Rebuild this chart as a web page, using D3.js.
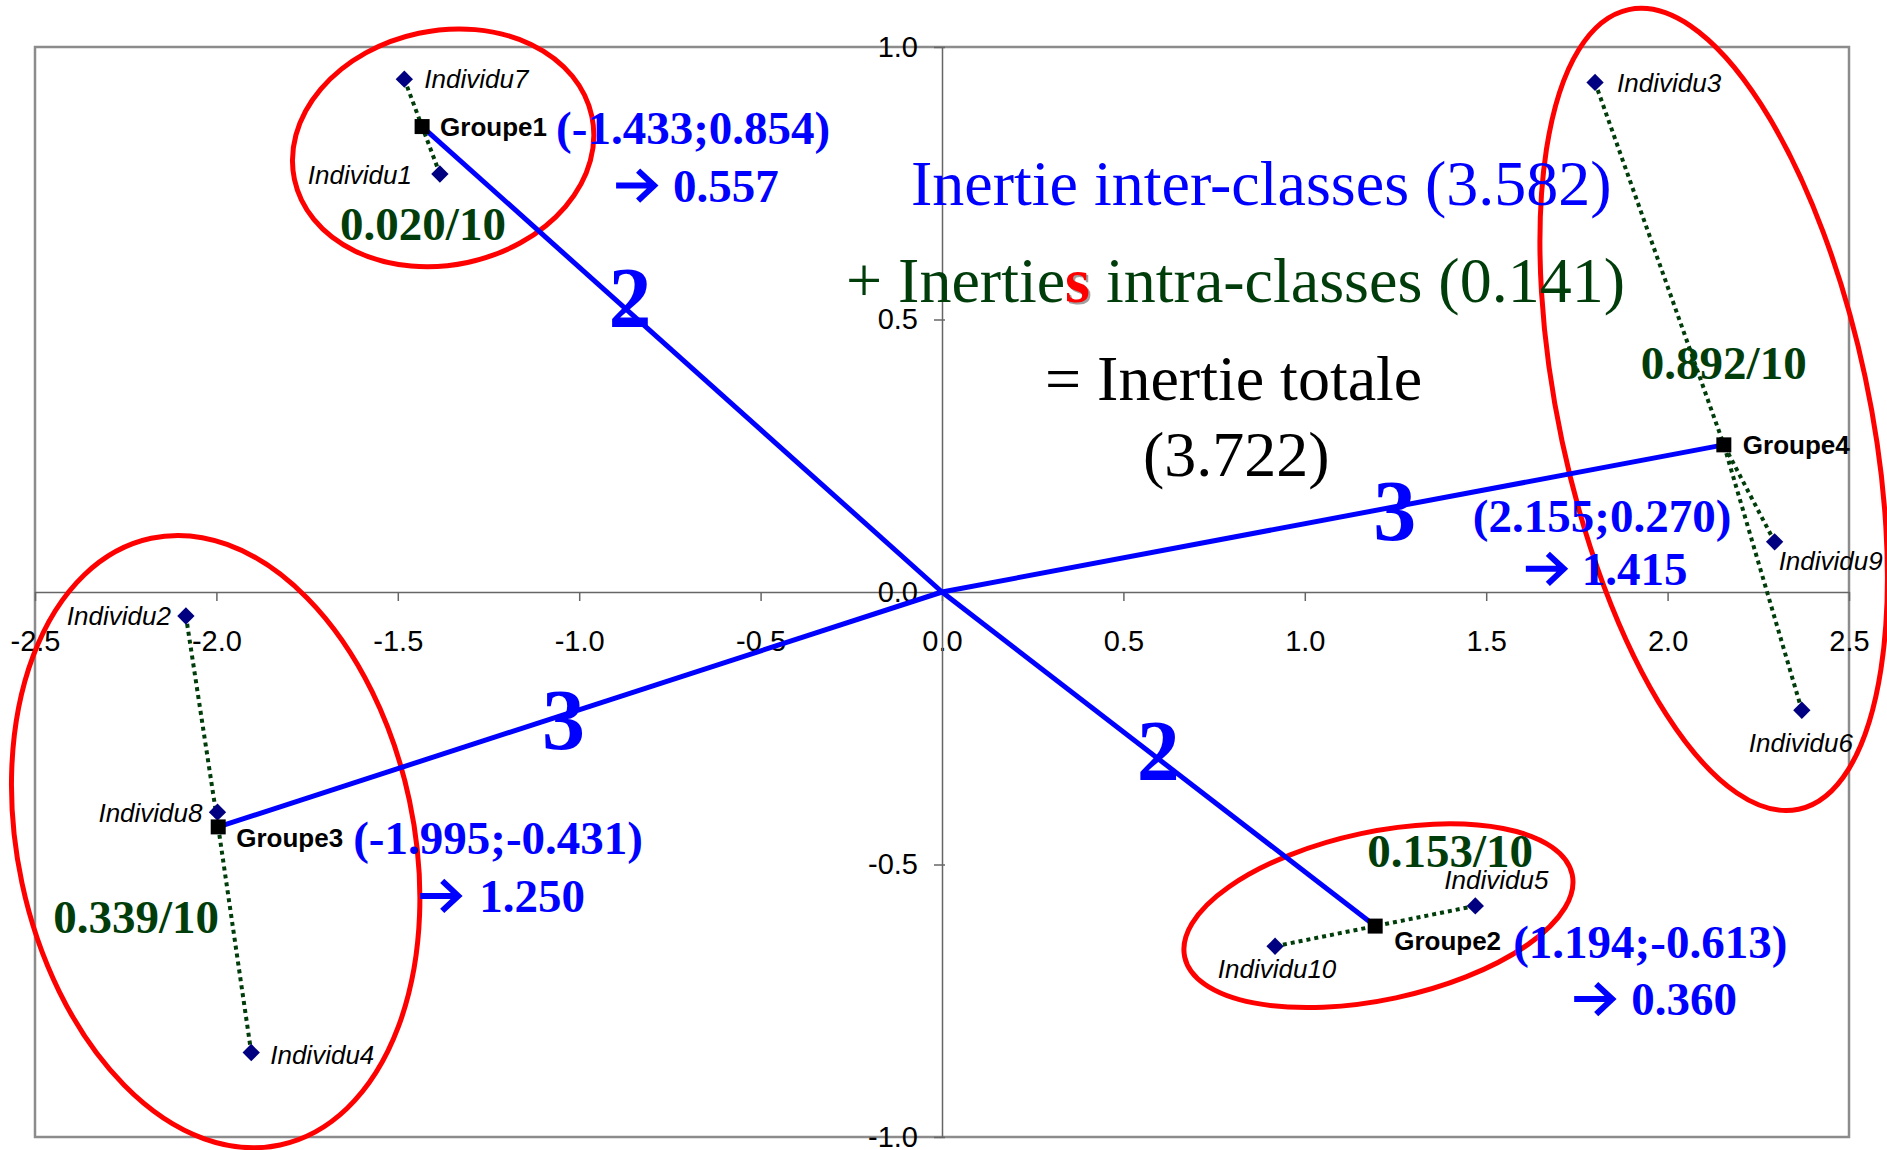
<!DOCTYPE html>
<html><head><meta charset="utf-8">
<script src="https://cdn.jsdelivr.net/npm/d3@7"></script>
<style>body{margin:0;background:#fff;} svg{display:block;}</style>
</head><body>
<svg id="chart" width="1887" height="1150"></svg>
<script>
// ---------- data ----------
const xTickValues = [-2.5, -2.0, -1.5, -1.0, -0.5, 0.0, 0.5, 1.0, 1.5, 2.0, 2.5];
const yTickValues = [-1.0, -0.5, 0.0, 0.5, 1.0];

const indNames = ["Individu1","Individu2","Individu3","Individu4","Individu5","Individu6","Individu7","Individu8","Individu9","Individu10"];
const indX     = [-1.384, -2.084, 1.800, -1.904, 1.470, 2.370, -1.482, -1.997, 2.295, 0.918];
const indY     = [ 0.767, -0.044, 0.935, -0.845, -0.576, -0.217, 0.941, -0.404, 0.092, -0.650];
const indGroup = [0, 2, 3, 2, 1, 3, 0, 2, 3, 1];

const groupNames  = ["Groupe1","Groupe2","Groupe3","Groupe4"];
const groupX      = [-1.433, 1.194, -1.995, 2.155];
const groupY      = [ 0.854, -0.613, -0.431, 0.270];
const groupCount  = [2, 2, 3, 3];
const interContrib = ["0.557","0.360","1.250","1.415"];
const intraText    = ["0.020/10","0.153/10","0.339/10","0.892/10"];

const interTotal = "3.582", intraTotal = "0.141", grandTotal = "3.722";

// ellipses (data units)
const ellCX = [-1.375, 1.203, -2.002, 2.127];
const ellCY = [ 0.815, -0.594, -0.458, 0.335];
const ellRX = [ 0.419, 0.546, 0.546, 0.427];
const ellRY = [ 0.215, 0.154, 0.569, 0.750];

// ---------- layout (pixel offsets / styles) ----------
const BLUE = "#0000ff", GREEN = "#003d0a", RED = "#ff0000", NAVY = "#000080";
const SERIF = "'Liberation Serif','Times New Roman',serif";
const SANS = "'Liberation Sans',Arial,sans-serif";
const indLabelPos = [
  {dx:-28, dy:10, a:"end"}, {dx:-15, dy:9, a:"end"}, {dx:22, dy:10, a:"start"},
  {dx:19, dy:11, a:"start"}, {dx:-31, dy:-17, a:"start"}, {dx:-1, dy:42, a:"middle"},
  {dx:20, dy:9, a:"start"}, {dx:-15, dy:9.5, a:"end"}, {dx:4, dy:28, a:"start"},
  {dx:2, dy:32, a:"middle"}
];
const groupLabelPos = [{dx:18,dy:9},{dx:19,dy:24},{dx:18,dy:20},{dx:19,dy:9}];
const coordPos = [{dx:134,dy:17},{dx:138,dy:31.5},{dx:135,dy:27},{dx:-251,dy:87}];
const arrowPos = [{dx:194,dy:59},{dx:199,dy:73},{dx:202,dy:69},{dx:-198,dy:124}];
const valuePos = [{dx:251,dy:75},{dx:256,dy:89},{dx:261,dy:85},{dx:-142,dy:140}];
const intraPos = [{dx:-82,dy:113},{dx:-8,dy:-59},{dx:-165,dy:106},{dx:-83,dy:-66}];
const weightPos = [{t:0.6,dy:14},{t:0.499,dy:21},{t:0.523,dy:34},{t:0.579,dy:33}];

// ---------- scales ----------
const plot = {left:35, right:1849, top:47, bottom:1137};
const x = d3.scaleLinear().domain([-2.5, 2.5]).range([plot.left, plot.right]);
const y = d3.scaleLinear().domain([-1, 1]).range([plot.bottom, plot.top]);
const xu = x(1) - x(0), yu = y(0) - y(1);

const svg = d3.select("#chart");
svg.append("rect").attr("width",1887).attr("height",1150).attr("fill","#fff");

// plot border
svg.append("rect").attr("x",plot.left).attr("y",plot.top)
  .attr("width",plot.right-plot.left).attr("height",plot.bottom-plot.top)
  .attr("fill","none").attr("stroke","#8c8c8c").attr("stroke-width",2.5);

// axes
const xAxis = d3.axisBottom(x).tickValues(xTickValues).tickSize(9).tickSizeOuter(0)
  .tickPadding(29).tickFormat(d => d.toFixed(1));
const gx = svg.append("g").attr("transform",`translate(0,${y(0)})`).call(xAxis);
const yAxis = d3.axisLeft(y).tickValues(yTickValues).tickSize(8).tickSizeOuter(0)
  .tickPadding(16).tickFormat(d => d.toFixed(1));
const gy = svg.append("g").attr("transform",`translate(${x(0)},0)`).call(yAxis);
[gx, gy].forEach(g => {
  g.select(".domain").attr("stroke","#666").attr("stroke-width",1.5);
  g.selectAll(".tick line").attr("stroke","#666").attr("stroke-width",1.5);
  g.selectAll(".tick text").attr("font-family",SANS).attr("font-size",29).attr("fill","#000");
});
gy.selectAll(".tick line").attr("x2",3).attr("x1",-8);

// ellipses
svg.append("g").selectAll("ellipse").data(ellCX).join("ellipse")
  .attr("transform",(d,i)=>`translate(${x(ellCX[i])},${y(ellCY[i])}) rotate(-12)`)
  .attr("rx",(d,i)=>ellRX[i]*xu).attr("ry",(d,i)=>ellRY[i]*yu)
  .attr("fill","none").attr("stroke",RED).attr("stroke-width",5);

// blue inter-class lines
svg.append("g").selectAll("line").data(groupNames).join("line")
  .attr("x1",x(0)).attr("y1",y(0))
  .attr("x2",(d,i)=>x(groupX[i])).attr("y2",(d,i)=>y(groupY[i]))
  .attr("stroke",BLUE).attr("stroke-width",5);

// dotted intra-class lines
svg.append("g").selectAll("line").data(indNames).join("line")
  .attr("x1",(d,i)=>x(indX[i])).attr("y1",(d,i)=>y(indY[i]))
  .attr("x2",(d,i)=>x(groupX[indGroup[i]])).attr("y2",(d,i)=>y(groupY[indGroup[i]]))
  .attr("stroke",GREEN).attr("stroke-width",4).attr("stroke-dasharray","4,4");

// individual markers
svg.append("g").selectAll("path").data(indNames).join("path")
  .attr("d", d3.symbol(d3.symbolSquare, 150)())
  .attr("transform",(d,i)=>`translate(${x(indX[i])},${y(indY[i])}) rotate(45)`)
  .attr("fill",NAVY);
// group markers
svg.append("g").selectAll("path").data(groupNames).join("path")
  .attr("d", d3.symbol(d3.symbolSquare, 225)())
  .attr("transform",(d,i)=>`translate(${x(groupX[i])},${y(groupY[i])})`)
  .attr("fill","#000");

// individual labels
svg.append("g").selectAll("text").data(indNames).join("text")
  .attr("x",(d,i)=>x(indX[i])+indLabelPos[i].dx).attr("y",(d,i)=>y(indY[i])+indLabelPos[i].dy)
  .attr("text-anchor",(d,i)=>indLabelPos[i].a)
  .attr("font-family",SANS).attr("font-style","italic").attr("font-size",26).attr("fill","#000")
  .text(d=>d);
// group labels
svg.append("g").selectAll("text").data(groupNames).join("text")
  .attr("x",(d,i)=>x(groupX[i])+groupLabelPos[i].dx).attr("y",(d,i)=>y(groupY[i])+groupLabelPos[i].dy)
  .attr("font-family",SANS).attr("font-weight","bold").attr("font-size",26).attr("fill","#000")
  .text(d=>d);

// weight labels on lines
svg.append("g").selectAll("text").data(groupCount).join("text")
  .attr("x",(d,i)=>x(groupX[i]*weightPos[i].t))
  .attr("y",(d,i)=>y(groupY[i]*weightPos[i].t)+weightPos[i].dy)
  .attr("text-anchor","middle").attr("font-family",SERIF).attr("font-weight","bold")
  .attr("font-size",86).attr("fill",BLUE).text(d=>d);

const gxp = i => x(groupX[i]), gyp = i => y(groupY[i]);
// coordinates
svg.append("g").selectAll("text").data(groupNames).join("text")
  .attr("x",(d,i)=>gxp(i)+coordPos[i].dx).attr("y",(d,i)=>gyp(i)+coordPos[i].dy)
  .attr("font-family",SERIF).attr("font-weight","bold").attr("font-size",47).attr("fill",BLUE)
  .text((d,i)=>`(${groupX[i].toFixed(3)};${groupY[i].toFixed(3)})`);
// arrows (heavy chevron arrow glyph, drawn as a path)
svg.append("g").selectAll("path").data(groupNames).join("path")
  .attr("transform",(d,i)=>`translate(${gxp(i)+arrowPos[i].dx},${gyp(i)+arrowPos[i].dy})`)
  .attr("d","M0,0 L38,0 M22,-15 L38,0 L22,15")
  .attr("fill","none").attr("stroke",BLUE).attr("stroke-width",6)
  .attr("stroke-linecap","butt").attr("stroke-linejoin","miter");
// inter contributions
svg.append("g").selectAll("text").data(interContrib).join("text")
  .attr("x",(d,i)=>gxp(i)+valuePos[i].dx).attr("y",(d,i)=>gyp(i)+valuePos[i].dy)
  .attr("font-family",SERIF).attr("font-weight","bold").attr("font-size",47).attr("fill",BLUE)
  .text(d=>d);
// intra inertia
svg.append("g").selectAll("text").data(intraText).join("text")
  .attr("x",(d,i)=>gxp(i)+intraPos[i].dx).attr("y",(d,i)=>gyp(i)+intraPos[i].dy)
  .attr("font-family",SERIF).attr("font-weight","bold").attr("font-size",47).attr("fill",GREEN)
  .text(d=>d);

// big summary text
const big = svg.append("g").attr("font-family",SERIF).attr("font-size",64);
big.append("text").attr("x",911).attr("y",205).attr("fill",BLUE)
  .text(`Inertie inter-classes (${interTotal})`);
// shadow of the red "s"
const sh = big.append("text").attr("x",848).attr("y",304).attr("fill","none").attr("aria-hidden","true");
sh.append("tspan").text("+ Inertie");
sh.append("tspan").attr("fill","#a0a0a0").attr("font-weight","bold").text("s");
const t2 = big.append("text").attr("x",846).attr("y",302).attr("fill",GREEN);
t2.append("tspan").text("+ Inertie");
t2.append("tspan").attr("fill",RED).attr("font-weight","bold").text("s");
t2.append("tspan").text(` intra-classes (${intraTotal})`);
big.append("text").attr("x",1045).attr("y",400).attr("fill","#000").text("= Inertie totale");
big.append("text").attr("x",1143).attr("y",476).attr("fill","#000").text(`(${grandTotal})`);
</script>
</body></html>
